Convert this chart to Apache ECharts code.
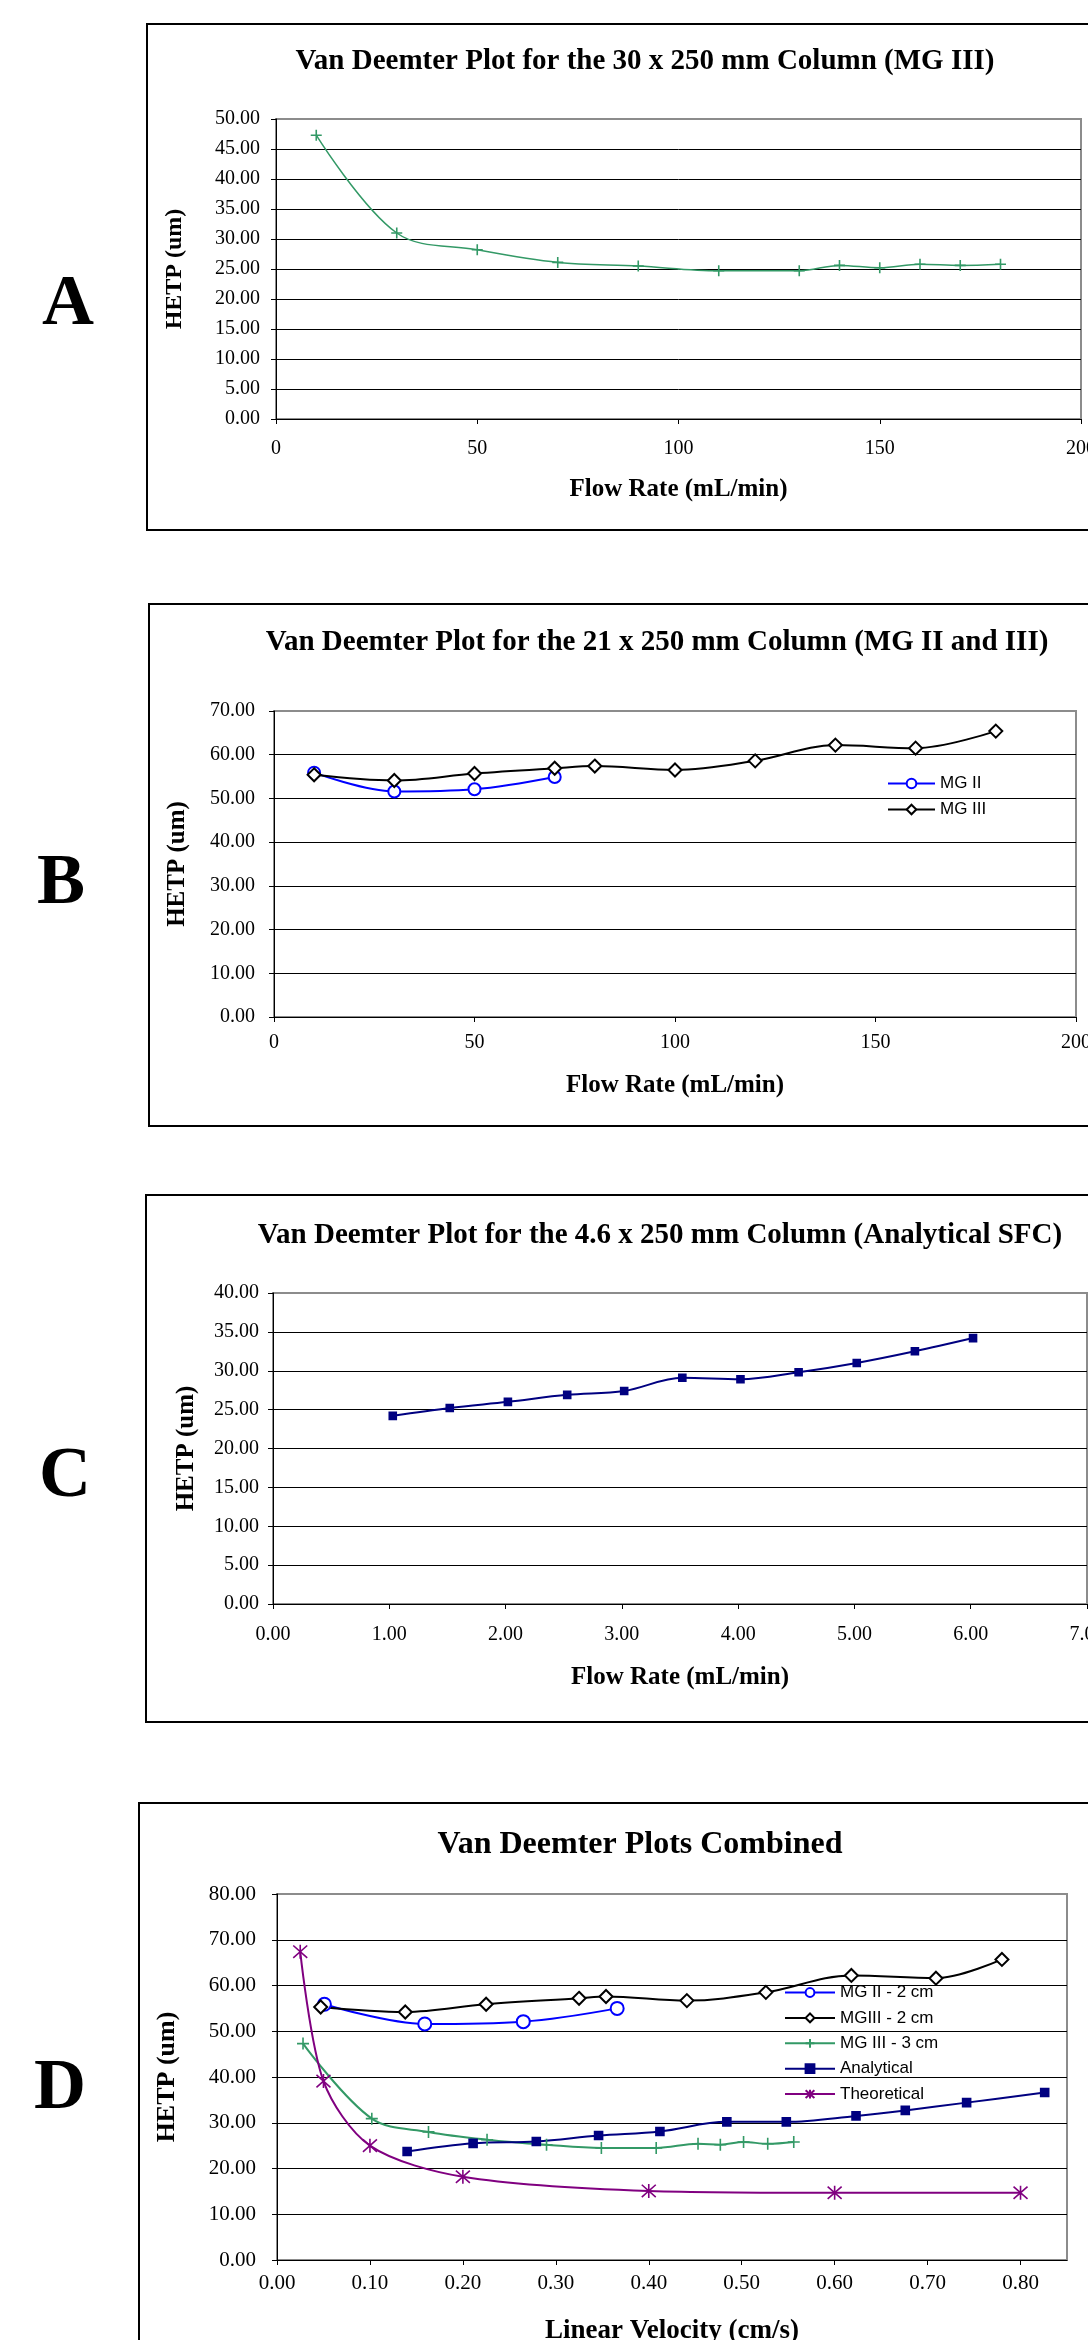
<!DOCTYPE html>
<html><head><meta charset="utf-8">
<script src="https://cdn.jsdelivr.net/npm/echarts@6/dist/echarts.min.js"></script>
<style>html,body{margin:0;padding:0;background:#fff;overflow:hidden;width:1088px;height:2340px}#c{width:1088px;height:2340px}</style>
</head><body><div id="c"></div>
<script>
// ---- Chart A: 30 x 250 mm column (MG III) ----
const flowA = [10, 30, 50, 70, 90, 110, 130, 140, 150, 160, 170, 180];
const hetpA = [47.3, 31.0, 28.2, 26.1, 25.5, 24.7, 24.7, 25.6, 25.2, 25.8, 25.6, 25.8];
// ---- Chart B: 21 x 250 mm column ----
const flowB_MG2 = [10, 30, 50, 70];
const hetpB_MG2 = [55.9, 51.6, 52.1, 54.9];
const flowB_MG3 = [10, 30, 50, 70, 80, 100, 120, 140, 160, 180];
const hetpB_MG3 = [55.4, 54.1, 55.7, 56.9, 57.4, 56.5, 58.6, 62.2, 61.5, 65.4];
// ---- Chart C: 4.6 x 250 mm column (Analytical SFC) ----
const flowC = [1.03, 1.52, 2.02, 2.53, 3.02, 3.52, 4.02, 4.52, 5.02, 5.52, 6.02];
const hetpC = [24.2, 25.2, 26.0, 26.9, 27.4, 29.1, 28.9, 29.8, 31.0, 32.5, 34.2];
// ---- Chart D: combined (linear velocity) ----
const velD_MG2 = [0.051, 0.159, 0.265, 0.366];
const hetpD_MG2 = [55.9, 51.6, 52.1, 55.0];
const velD_MG3_2 = [0.047, 0.138, 0.225, 0.325, 0.354, 0.441, 0.526, 0.618, 0.709, 0.780];
const hetpD_MG3_2 = [55.3, 54.2, 55.9, 57.2, 57.6, 56.7, 58.5, 62.2, 61.6, 65.7];
const velD_MG3_3 = [0.028, 0.102, 0.163, 0.226, 0.290, 0.349, 0.408, 0.453, 0.477, 0.502, 0.528, 0.556];
const hetpD_MG3_3 = [47.3, 30.9, 28.0, 26.3, 25.2, 24.5, 24.5, 25.4, 25.2, 25.8, 25.4, 25.8];
const velD_An = [0.140, 0.211, 0.279, 0.346, 0.412, 0.484, 0.548, 0.623, 0.676, 0.742, 0.826];
const hetpD_An = [23.7, 25.5, 25.9, 27.2, 28.1, 30.2, 30.2, 31.5, 32.7, 34.4, 36.6];
const velD_Th = [0.025, 0.05, 0.10, 0.20, 0.40, 0.60, 0.80];
const hetpD_Th = [67.4, 39.1, 25.0, 18.2, 15.1, 14.7, 14.7];

const titles = [
  'Van Deemter Plot for the 30 x 250 mm Column (MG III)',
  'Van Deemter Plot for the 21 x 250 mm Column (MG II and III)',
  'Van Deemter Plot for the 4.6 x 250 mm Column (Analytical SFC)',
  'Van Deemter Plots Combined'
];
const panelLetters = ['A', 'B', 'C', 'D'];
const xNames = ['Flow Rate (mL/min)', 'Flow Rate (mL/min)', 'Flow Rate (mL/min)', 'Linear Velocity (cm/s)'];
const yName = 'HETP (um)';

const SERIF = '"Liberation Serif", "Times New Roman", serif';
const SANS = '"Liberation Sans", Arial, sans-serif';
const PLUS = 'path://M5,0L5,10M0,5L10,5';
const STAR = 'path://M5,0L5,10M0.6,0.6L9.4,9.4M0.6,9.4L9.4,0.6';

const pairs = (xs, ys) => xs.map((x, i) => [x, ys[i]]);

const grids = [
  {left: 276, top: 119, width: 805, height: 300},
  {left: 274, top: 711, width: 802, height: 306},
  {left: 273, top: 1293, width: 814, height: 311},
  {left: 277, top: 1894, width: 790, height: 366}
].map(g => Object.assign(g, {show: true, borderColor: '#8c8c8c', borderWidth: 2, backgroundColor: 'transparent', containLabel: false, outerBoundsMode: 'none'}));

function xAxis(gi, min, max, interval, fmt, margin, nameGap, fs, nfs, hideMax) {
  return {
    type: 'value', gridIndex: gi, min, max, interval,
    name: xNames[gi], nameLocation: 'middle', nameGap, nameMoveOverlap: false,
    nameTextStyle: {fontFamily: SERIF, fontWeight: 'bold', fontSize: nfs, color: '#000'},
    axisLine: {show: true, onZero: false, lineStyle: {color: '#000', width: 1}},
    axisTick: {show: true, inside: false, length: 5, lineStyle: {color: '#000'}},
    axisLabel: {show: true, margin, fontFamily: SERIF, fontSize: fs, color: '#000', formatter: fmt, showMaxLabel: hideMax ? false : true, hideOverlap: false},
    splitLine: {show: false}
  };
}
function yAxis(gi, max, interval, margin, nameGap, fs, nfs) {
  return {
    type: 'value', gridIndex: gi, min: 0, max, interval,
    name: yName, nameLocation: 'middle', nameGap, nameRotate: 90, nameMoveOverlap: false,
    nameTextStyle: {fontFamily: SERIF, fontWeight: 'bold', fontSize: nfs, color: '#000'},
    axisLine: {show: true, lineStyle: {color: '#000', width: 1}},
    axisTick: {show: true, inside: false, length: 5, lineStyle: {color: '#000'}},
    axisLabel: {show: true, margin, fontFamily: SERIF, fontSize: fs, color: '#000', formatter: v => v.toFixed(2)},
    splitLine: {show: true, showMaxLine: false, lineStyle: {color: '#000', width: 1}}
  };
}

function line(name, gi, xs, ys, color, symbol, size, width, smooth) {
  return {
    type: 'line', name, xAxisIndex: gi, yAxisIndex: gi,
    data: pairs(xs, ys),
    smooth: smooth == null ? 0.35 : smooth,
    symbol, symbolSize: size, showSymbol: true,
    lineStyle: {color, width},
    itemStyle: {color, borderColor: color, borderWidth: 1.6},
    emphasis: {disabled: true},
    z: 3
  };
}

const titleCenters = [[645, 47.5, 29], [657, 628.5, 29], [660, 1221, 29], [640, 1829, 32]];

const boxes = [
  [147, 24, 1000, 506],
  [149, 604, 1020, 522],
  [146, 1195, 1030, 527],
  [139, 1803, 1000, 620]
];
const letterPos = [[68, 305], [61, 884], [65, 1477], [60, 2089]];

const legendText = {fontFamily: SANS, fontSize: 17, color: '#000'};

const option = {
  backgroundColor: '#fff',
  animation: false,
  title: titles.map((t, i) => ({
    text: t, left: titleCenters[i][0], top: titleCenters[i][1], textAlign: 'center', padding: 0,
    textStyle: {fontFamily: SERIF, fontWeight: 'bold', fontSize: titleCenters[i][2], color: '#000'}
  })),
  legend: [
    {data: ['MG II', 'MG III'], orient: 'vertical', left: 887, top: 775, padding: 0,
     itemWidth: 47, itemHeight: 12, itemGap: 9, selectedMode: false, textStyle: legendText},
    {data: ['MG II - 2 cm', 'MGIII - 2 cm', 'MG III - 3 cm', 'Analytical', 'Theoretical'],
     orient: 'vertical', left: 784, top: 1984, padding: 0,
     itemWidth: 50, itemHeight: 11, itemGap: 8.4, selectedMode: false, textStyle: legendText}
  ],
  grid: grids,
  xAxis: [
    xAxis(0, 0, 200, 50, v => String(v), 20, 58, 20, 25, false),
    xAxis(1, 0, 200, 50, v => String(v), 16, 56, 20, 25, false),
    xAxis(2, 0, 7, 1, v => v.toFixed(2), 21, 61, 20, 25, false),
    xAxis(3, 0, 0.85, 0.1, v => v.toFixed(2), 13, 58, 21, 27, true)
  ],
  yAxis: [
    yAxis(0, 50, 5, 16, 89, 20, 24),
    yAxis(1, 70, 10, 19, 84, 20, 25),
    yAxis(2, 40, 5, 14, 74, 20, 25),
    yAxis(3, 80, 10, 21, 97, 21, 26)
  ],
  series: [
    line('MG III (30 x 250 mm)', 0, flowA, hetpA, '#339966', PLUS, 11, 1.5),
    line('MG II', 1, flowB_MG2, hetpB_MG2, '#0000ff', 'emptyCircle', 12, 2),
    line('MG III', 1, flowB_MG3, hetpB_MG3, '#000000', 'emptyDiamond', 13, 2),
    line('Analytical SFC (4.6 x 250 mm)', 2, flowC, hetpC, '#000080', 'rect', 7, 2),
    line('MG II - 2 cm', 3, velD_MG2, hetpD_MG2, '#0000ff', 'emptyCircle', 13, 2),
    line('MGIII - 2 cm', 3, velD_MG3_2, hetpD_MG3_2, '#000000', 'emptyDiamond', 13, 2),
    line('MG III - 3 cm', 3, velD_MG3_3, hetpD_MG3_3, '#339966', PLUS, 12, 2),
    line('Analytical', 3, velD_An, hetpD_An, '#000080', 'rect', 8, 2),
    line('Theoretical', 3, velD_Th, hetpD_Th, '#800080', STAR, 14, 2, 0.3)
  ],
  graphic: [
    ...boxes.map(b => ({type: 'rect', z: 0, silent: true,
      shape: {x: b[0], y: b[1], width: b[2], height: b[3]},
      style: {fill: 'none', stroke: '#000', lineWidth: 2}})),
    ...panelLetters.map((L, i) => ({type: 'text', silent: true, x: letterPos[i][0], y: letterPos[i][1],
      style: {text: L, font: 'bold 72px ' + SERIF, fontSize: 72, fontWeight: 'bold', fontFamily: SERIF,
        fill: '#000', align: 'center', verticalAlign: 'middle', textAlign: 'center', textVerticalAlign: 'middle'}}))
  ]
};

const chart = echarts.init(document.getElementById('c'), null, {renderer: 'canvas', width: 1088, height: 2340});
chart.setOption(option);
</script></body></html>
